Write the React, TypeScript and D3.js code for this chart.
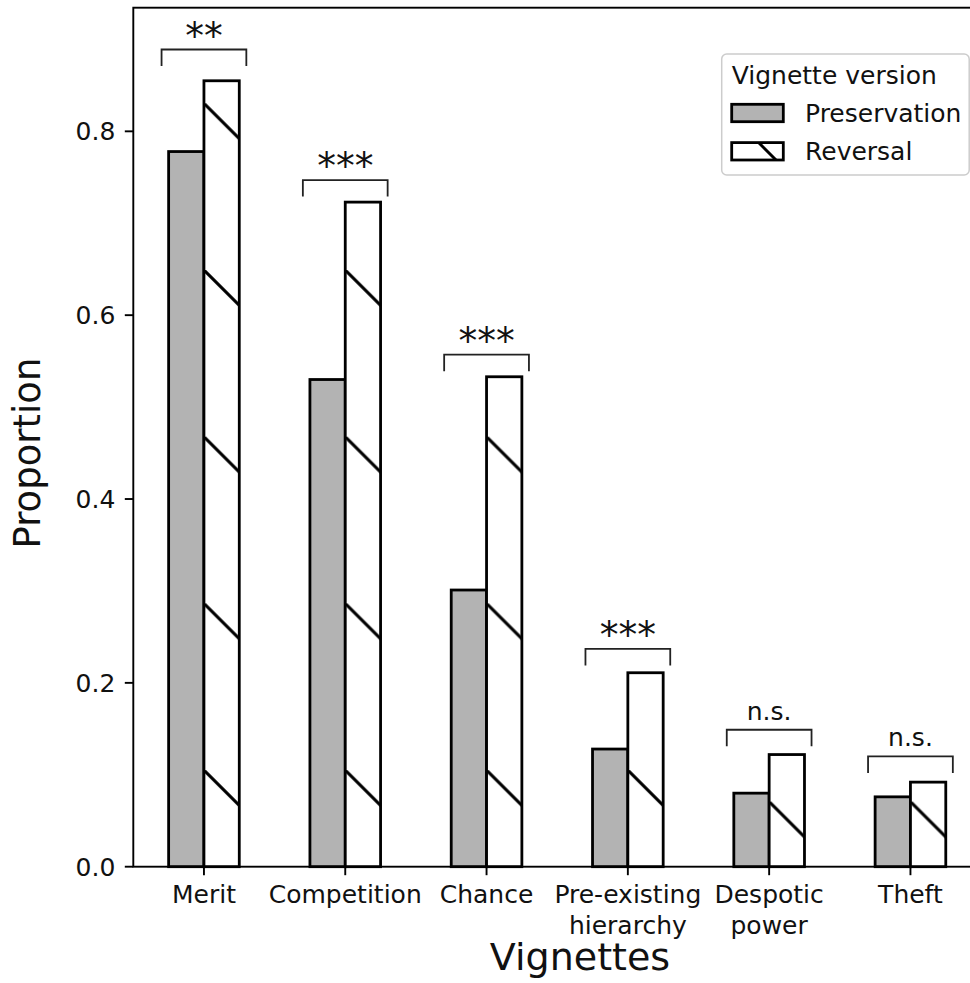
import React from 'react';
import * as d3 from 'd3';

// vignettes and the share of each version
const categories = ['Merit', 'Competition', 'Chance', 'Pre-existing\nhierarchy', 'Despotic\npower', 'Theft'];
const preservation = [0.778, 0.53, 0.301, 0.128, 0.08, 0.076];
const reversal = [0.855, 0.723, 0.533, 0.211, 0.122, 0.092];
const significance = ['**', '***', '***', '***', 'n.s.', 'n.s.'];
const bracketLevels = [0.889, 0.747, 0.557, 0.237, 0.149, 0.12];
const yTicks = [0, 0.2, 0.4, 0.6, 0.8];
const seriesNames = ['Preservation', 'Reversal'];

const W = 970;
const H = 983;
const margin = { top: 7.7, bottom: 116.3, left: 133.3 };
const FONT = '"DejaVu Sans", sans-serif';
const FS = 25;

export default function App() {
  const x = d3.scaleLinear().domain([-0.5, 5.5]).range([margin.left, 981.1]);
  const y = d3.scaleLinear().domain([0, 0.9345]).range([H - margin.bottom, margin.top]);
  const bw = x(0.25) - x(0);
  const y0 = y(0);

  // hatch tile of the original figure: one diagonal every ~166.7px,
  // the last two groups fall on a shifted tile
  const hatchPeriod = 166.7;
  const hatchPhase = (i: number) => (i < 4 ? 103.3 : 134.8);

  return (
    <svg width={W} height={H} style={{ position: 'absolute', left: 0, top: 0, background: '#fff' }} fontFamily={FONT}>
      <defs>
        {reversal.map((_, i) => (
          <pattern key={i} id={'hatch' + i} patternUnits="userSpaceOnUse" x={x(i)} y={hatchPhase(i)}
            width={bw * 3} height={hatchPeriod}>
            <line x1={-2} y1={-2} x2={bw + 2} y2={bw + 2} stroke="#000" strokeWidth={3} />
          </pattern>
        ))}
        <pattern id="hatchLegend" patternUnits="userSpaceOnUse" x={744} y={128} width={80} height={80}>
          <line x1={0} y1={0} x2={40} y2={40} stroke="#000" strokeWidth={3} />
        </pattern>
        <clipPath id="plotClip">
          <rect x={0} y={0} width={W} height={H} />
        </clipPath>
      </defs>

      {/* bars: preservation first, reversal drawn over it */}
      {preservation.map((v, i) => (
        <rect key={'p' + i} x={x(i) - bw} y={y(v)} width={bw} height={y0 - y(v)}
          fill="#b3b3b3" stroke="#000" strokeWidth={2.8} />
      ))}
      {reversal.map((v, i) => (
        <g key={'r' + i}>
          <rect x={x(i)} y={y(v)} width={bw} height={y0 - y(v)} fill="#fff" />
          <rect x={x(i)} y={y(v)} width={bw} height={y0 - y(v)} fill={`url(#hatch${i})`} stroke="#000" strokeWidth={2.8} />
        </g>
      ))}

      {/* significance brackets */}
      {bracketLevels.map((b, i) => {
        const yb = y(b);
        const yEnd = y(b - 0.018);
        const isStars = significance[i] !== 'n.s.';
        return (
          <g key={'b' + i}>
            <path d={`M${x(i - 0.3)},${yEnd}V${yb}H${x(i + 0.3)}V${yEnd}`} fill="none" stroke="#222" strokeWidth={1.8} />
            <text x={x(i)} y={isStars ? yb - 1 : yb - 10} textAnchor="middle"
              fontSize={isStars ? 37.5 : FS} fill="#111">{significance[i]}</text>
          </g>
        );
      })}

      {/* spines */}
      <g clipPath="url(#plotClip)">
        <rect x={margin.left} y={margin.top} width={x(5.5) - margin.left} height={y0 - margin.top}
          fill="none" stroke="#000" strokeWidth={1.9} />
      </g>

      {/* y axis */}
      {yTicks.map((t) => (
        <g key={'yt' + t}>
          <line x1={margin.left - 8.5} x2={margin.left} y1={y(t)} y2={y(t)} stroke="#000" strokeWidth={1.9} />
          <text x={margin.left - 18} y={y(t)} dy="0.36em" textAnchor="end" fontSize={FS} fill="#111">
            {d3.format('.1f')(t)}
          </text>
        </g>
      ))}
      <text transform={`translate(40,453) rotate(-90)`} textAnchor="middle" fontSize={37} fill="#111">Proportion</text>

      {/* x axis */}
      {categories.map((c, i) => (
        <g key={'xt' + i}>
          <line x1={x(i)} x2={x(i)} y1={y0} y2={y0 + 8.5} stroke="#000" strokeWidth={1.9} />
          <text x={x(i)} y={903.3} textAnchor="middle" fontSize={FS} fill="#111">
            {c.split('\n').map((line, k) => (
              <tspan key={k} x={x(i)} dy={k === 0 ? 0 : 31}>{line}</tspan>
            ))}
          </text>
        </g>
      ))}
      <text x={580} y={970} textAnchor="middle" fontSize={38} fill="#111">Vignettes</text>

      {/* legend */}
      <g>
        <rect x={721.7} y={54} width={247.5} height={121} rx={5} fill="#fff" fillOpacity={0.8} stroke="#cccccc" strokeWidth={1.5} />
        <text x={731.7} y={84} fontSize={FS} fill="#111">Vignette version</text>
        <rect x={731.7} y={104.3} width={51.6} height={17.4} fill="#b3b3b3" stroke="#000" strokeWidth={2.8} />
        <text x={805} y={121.7} fontSize={FS} fill="#111">{seriesNames[0]}</text>
        <rect x={731.7} y={142.6} width={51.6} height={17.4} fill="#fff" />
        <rect x={731.7} y={142.6} width={51.6} height={17.4} fill="url(#hatchLegend)" stroke="#000" strokeWidth={2.8} />
        <text x={805} y={160} fontSize={FS} fill="#111">{seriesNames[1]}</text>
      </g>
    </svg>
  );
}
